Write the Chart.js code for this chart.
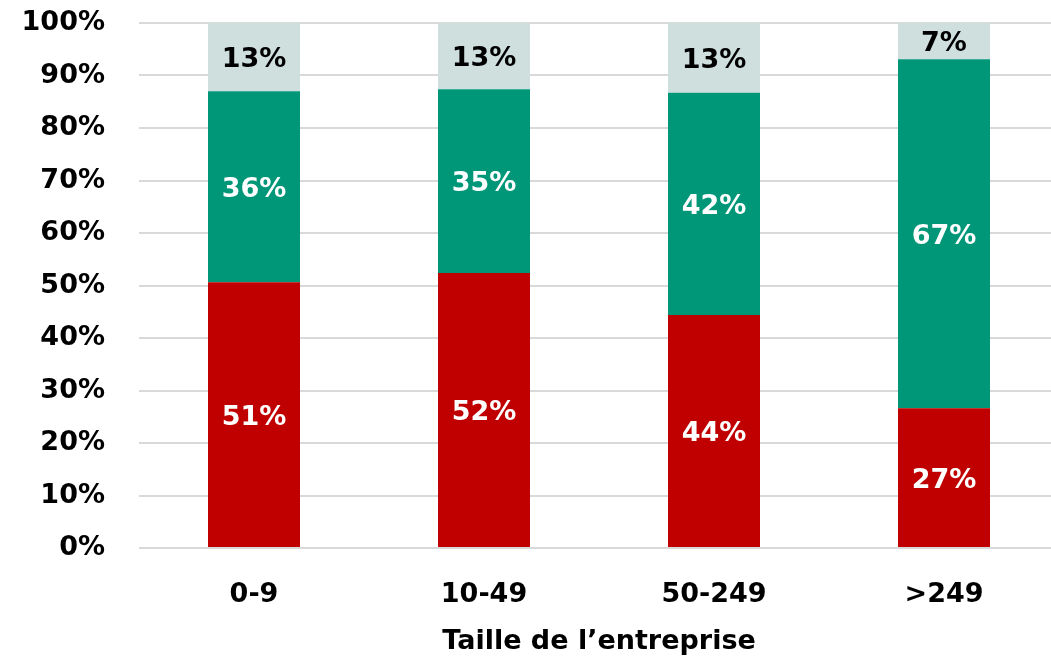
<!DOCTYPE html>
<html>
<head>
<meta charset="utf-8">
<script src="https://cdn.jsdelivr.net/npm/chart.js@4"></script>
<style>
  html, body { margin: 0; padding: 0; background: #fff; overflow: hidden; }
  #wrap { width: 1060px; height: 659px; }
</style>
</head>
<body>
<div id="wrap"><canvas id="chart"></canvas></div>
<script>
const categories = ['0-9', '10-49', '50-249', '>249'];
const redValues = [50.6, 52.4, 44.4, 26.6];
const greenValues = [36.4, 35.0, 42.3, 66.5];
const greyValues = [13.0, 12.6, 13.3, 6.9];
const yTicks = [0, 10, 20, 30, 40, 50, 60, 70, 80, 90, 100];
const xTitle = 'Taille de l\u2019entreprise';

const FONT = { family: '"DejaVu Sans", sans-serif', size: 27, weight: 'bold' };

// labels in the middle of each segment
const segmentLabels = {
    id: 'segmentLabels',
    afterDatasetsDraw(chart) {
        const ctx = chart.ctx;
        ctx.save();
        ctx.font = 'bold 27px "DejaVu Sans", sans-serif';
        ctx.textAlign = 'center';
        ctx.textBaseline = 'middle';
        chart.data.datasets.forEach((ds, i) => {
            const meta = chart.getDatasetMeta(i);
            meta.data.forEach((bar, j) => {
                ctx.fillStyle = ds.labelColor;
                ctx.fillText(Math.round(ds.data[j]) + '%', bar.x, (bar.y + bar.base) / 2 + 3);
            });
        });
        ctx.restore();
    }
};

new Chart(document.getElementById('chart'), {
    type: 'bar',
    data: {
        labels: categories,
        datasets: [
            { label: 'rouge', data: redValues, backgroundColor: '#C00000', labelColor: '#ffffff' },
            { label: 'vert', data: greenValues, backgroundColor: '#009678', labelColor: '#ffffff' },
            { label: 'gris', data: greyValues, backgroundColor: '#CFDFDE', labelColor: '#000000' },
        ],
    },
    options: {
        responsive: true,
        maintainAspectRatio: false,
        animation: false,
        layout: { padding: { left: 22, right: 1, top: 23, bottom: 0 } },
        plugins: {
            legend: { display: false },
            tooltip: { enabled: false },
        },
        datasets: {
            bar: { categoryPercentage: 1, barPercentage: 0.4 },
        },
        scales: {
            x: {
                stacked: true,
                grid: { display: false, drawTicks: false },
                border: { display: false },
                ticks: { color: '#000', font: FONT, padding: 31 },
                title: {
                    display: true,
                    text: xTitle,
                    color: '#000',
                    font: FONT,
                    padding: { top: 14, bottom: 1 },
                },
                afterFit(axis) {
                    axis.height = 111;
                    axis.paddingLeft = 0;
                    axis.paddingRight = 0;
                },
            },
            y: {
                stacked: true,
                min: 0,
                max: 100,
                afterBuildTicks(axis) {
                    axis.ticks = yTicks.map(v => ({ value: v }));
                },
                grid: { color: '#d9d9d9', lineWidth: 2, drawTicks: false },
                border: { display: false },
                ticks: {
                    color: '#000',
                    font: FONT,
                    padding: 34,
                    callback: v => v + '%',
                },
                afterFit(axis) {
                    axis.width = 117;
                    axis.paddingTop = 0;
                    axis.paddingBottom = 0;
                },
            },
        },
    },
    plugins: [segmentLabels],
});
</script>
</body>
</html>
